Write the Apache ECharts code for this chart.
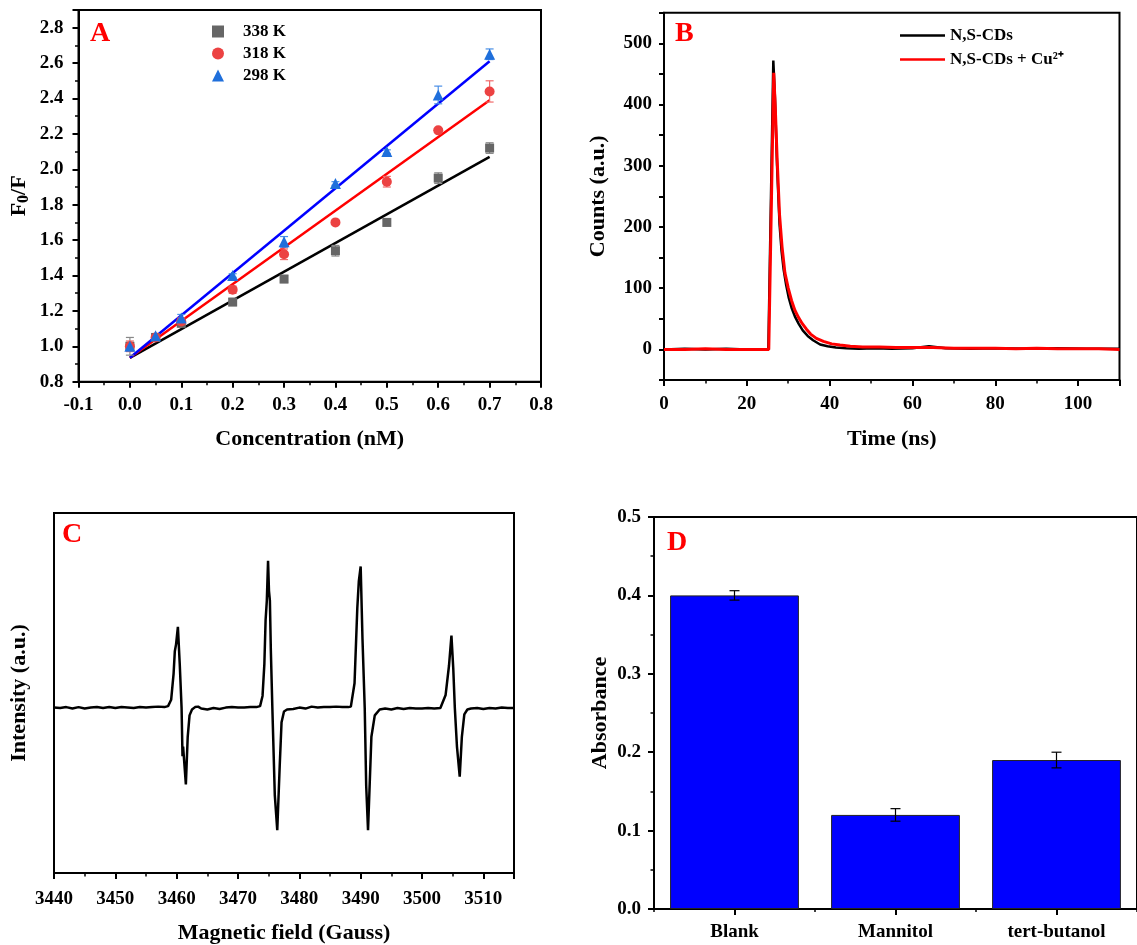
<!DOCTYPE html>
<html><head><meta charset="utf-8">
<script src="https://cdn.jsdelivr.net/npm/echarts@6/dist/echarts.min.js"></script>
<style>html,body{margin:0;padding:0;background:#fff}#main{width:1137px;height:945px}</style>
</head><body><div id="main"></div>
<script>
// ---------- Panel A ----------
const concX = [0, 0.05, 0.1, 0.2, 0.3, 0.4, 0.5, 0.6, 0.7];
const f338 = [1.00, 1.05, 1.13, 1.25, 1.38, 1.54, 1.70, 1.95, 2.12];
const e338 = [0.05, 0.02, 0.02, 0.02, 0.02, 0.03, 0.02, 0.03, 0.03];
const f318 = [1.00, 1.05, 1.14, 1.32, 1.52, 1.70, 1.93, 2.22, 2.44];
const e318 = [0.03, 0.01, 0.02, 0.02, 0.03, 0.01, 0.03, 0.01, 0.06];
const f298 = [1.00, 1.06, 1.16, 1.40, 1.59, 1.92, 2.10, 2.42, 2.65];
const e298 = [0.02, 0.01, 0.02, 0.01, 0.03, 0.01, 0.01, 0.05, 0.03];
const fitX = [0, 0.7];
const fit338 = [0.935, 2.07];
const fit318 = [0.935, 2.39];
const fit298 = [0.935, 2.61];
const legendA = ['338 K', '318 K', '298 K'];

// ---------- Panel B ----------
const bTimeBlack = [0, 5, 10, 15, 20, 25.2, 26.4, 26.8, 27.3, 27.9, 28.4, 28.9, 29.5, 30.1, 30.8, 31.6, 32.5, 33.5, 34.7, 36.0, 37.7, 39.5, 41.5, 44, 47, 51, 55, 60, 64, 68, 74, 80, 88, 95, 102, 110];
const bBlack =     [0, 1, 0, 1, 0, 0, 472, 410, 300, 205, 160, 130, 105, 85, 68, 54, 42, 31, 22, 15, 8, 5, 3, 2, 1, 2, 1, 2, 5, 2, 1, 2, 1, 2, 1, 1];
const bTimeRed = [0, 5, 10, 15, 20, 25.3, 26.5, 26.9, 27.3, 27.9, 28.5, 29.2, 30.0, 30.8, 31.6, 32.5, 33.4, 34.4, 35.4, 36.8, 38.5, 40.5, 42.5, 45, 48, 52, 56, 60, 65, 70, 75, 80, 85, 90, 95, 100, 105, 110];
const bRed =     [0, 0, 1, 0, 0, 0, 452, 390, 315, 220, 168, 125, 100, 80, 64, 52, 42, 33, 25, 18, 13, 9, 7, 5, 4, 4, 3, 3, 3, 2, 2, 2, 1, 2, 1, 1, 1, 0];
const legendB = ['N,S-CDs', 'N,S-CDs + Cu²⁺'];

// ---------- Panel C ----------
const cField = [3440, 3441, 3442, 3443, 3444, 3445, 3446, 3447, 3448, 3449, 3450, 3451, 3452, 3453, 3454, 3455, 3456, 3457, 3458, 3458.6,
  3459.1, 3459.5, 3459.7, 3459.9, 3460.2, 3460.5, 3460.8, 3460.95, 3461.05, 3461.5, 3461.8, 3462.1, 3462.5, 3463, 3463.5,
  3464, 3465, 3466, 3467, 3468, 3469, 3470, 3471, 3472, 3473, 3473.6,
  3474.0, 3474.3, 3474.5, 3474.7, 3474.9, 3475.05, 3475.2, 3475.35, 3475.6, 3476.0, 3476.4, 3476.8, 3477.1, 3477.5, 3478,
  3479, 3480, 3481, 3482, 3483, 3484, 3485, 3486, 3487, 3488, 3488.4,
  3489.0, 3489.45, 3489.7, 3490.0, 3490.3, 3490.66, 3490.9, 3491.2, 3491.75, 3492.3, 3493.1,
  3494, 3495, 3496, 3497, 3498, 3499, 3500, 3501, 3502, 3503,
  3503.85, 3504.4, 3504.8, 3505.1, 3505.35, 3505.7, 3506.15, 3506.5, 3506.9, 3507.4,
  3508, 3509, 3510, 3511, 3512, 3513, 3514, 3515];
const cIntensity = [0, -0.5, 0.5, -1, 0.5, -1, 0, 0.5, -0.5, 0.5, -0.5, 0.5, 0, -0.5, 0.5, 0, 0.5, 1, 0.5, 1.5,
  8, 35, 58, 65, 83, 45, 0, -50, -40, -79, -30, -8, -2, 0.5, 1,
  -1, -2, -0.5, -1.5, 0, 0.5, 0, 0, 0.5, 0.5, 1.5,
  12, 45, 90, 110, 151, 120, 110, 60, 0, -90, -126, -60, -15, -4, -2,
  -1.5, 0, -1, 1, 0, 0.5, 0.5, 1, 0.5, 0.5, 1,
  25, 102, 130, 145, 70, 0, -80, -126, -30, -8, -2,
  -1, -2, -0.5, -1.5, -0.5, -1, -1, -0.5, -1, -0.5,
  13, 43, 74, 40, 0, -40, -71, -30, -7, -2,
  -1, -0.5, -1.5, -0.5, -1, 0, -0.5, -0.5];

// ---------- Panel D ----------
const dCategories = ['Blank', 'Mannitol', 'tert-butanol'];
const dAbsorb = [0.40, 0.12, 0.19];
const dErr = [0.006, 0.008, 0.010];

const FONT = "'Liberation Serif', 'Times New Roman', serif";
const lbl = (o) => Object.assign({color: '#000', fontFamily: FONT, fontWeight: 'bold', fontSize: 19}, o || {});
const nameStyle = {color: '#000', fontFamily: FONT, fontWeight: 'bold', fontSize: 22};
const axLine = {show: true, onZero: false, lineStyle: {color: '#000', width: 2}};
const tick = {show: true, inside: false, length: 6, lineStyle: {color: '#000', width: 2}};
const minor = {show: true, splitNumber: 2, length: 3.5, lineStyle: {color: '#000', width: 1.5}};
const fmt1 = v => (Math.abs(v) < 1e-9 ? 0 : v).toFixed(1);

function errRender(color, cap, width) {
  return function (params, api) {
    const x = api.value(0), y = api.value(1), e = api.value(2);
    const hi = api.coord([x, y + e]), lo = api.coord([x, y - e]);
    const st = {stroke: color, lineWidth: width};
    return {type: 'group', children: [
      {type: 'line', shape: {x1: hi[0], y1: hi[1], x2: lo[0], y2: lo[1]}, style: st},
      {type: 'line', shape: {x1: hi[0] - cap, y1: hi[1], x2: hi[0] + cap, y2: hi[1]}, style: st},
      {type: 'line', shape: {x1: lo[0] - cap, y1: lo[1], x2: lo[0] + cap, y2: lo[1]}, style: st}
    ]};
  };
}
const pairs = (xs, ys) => xs.map((x, i) => [x, ys[i]]);
const triples = (xs, ys, es) => xs.map((x, i) => [x, ys[i], es[i]]);

const colGray = '#666666', colRed = '#ec4242', colBlue = '#1f6fdb';

const option = {
  animation: false,
  backgroundColor: '#fff',
  textStyle: {fontFamily: FONT},
  grid: [
    {left: 78.5, top: 10, width: 462.5, height: 371.7, show: true, borderColor: '#000', borderWidth: 2, backgroundColor: 'transparent'},
    {left: 664, top: 12.7, width: 455.5, height: 367.3, show: true, borderColor: '#000', borderWidth: 2, backgroundColor: 'transparent'},
    {left: 54, top: 513, width: 460, height: 366.5, show: true, borderColor: '#000', borderWidth: 2, backgroundColor: 'transparent'},
    {left: 654, top: 517, width: 487, height: 392, show: true, borderColor: '#000', borderWidth: 2, backgroundColor: 'transparent'}
  ],
  xAxis: [
    {type: 'value', gridIndex: 0, min: -0.1, max: 0.8, interval: 0.1, axisLine: axLine, axisTick: tick, minorTick: minor,
     splitLine: {show: false}, axisLabel: lbl({margin: 14, formatter: fmt1}),
     name: 'Concentration (nM)', nameLocation: 'middle', nameGap: 47, nameTextStyle: nameStyle},
    {type: 'value', gridIndex: 1, min: 0, max: 110, interval: 20, axisLine: axLine, axisTick: tick, minorTick: minor,
     splitLine: {show: false}, axisLabel: lbl({margin: 15, showMaxLabel: false}),
     name: 'Time (ns)', nameLocation: 'middle', nameGap: 48, nameTextStyle: nameStyle},
    {type: 'value', gridIndex: 2, min: 3440, max: 3515, interval: 10, axisLine: axLine, axisTick: tick, minorTick: minor,
     splitLine: {show: false}, axisLabel: lbl({margin: 17, showMaxLabel: false, formatter: v => String(v)}),
     name: 'Magnetic field (Gauss)', nameLocation: 'middle', nameGap: 49, nameTextStyle: nameStyle},
    {type: 'category', gridIndex: 3, data: dCategories, axisLine: axLine,
     axisTick: {show: true, alignWithLabel: true, length: 6, lineStyle: {color: '#000', width: 2}},
     axisLabel: lbl({margin: 14})},
    {type: 'category', gridIndex: 3, position: 'bottom', offset: 0, data: dCategories, axisLine: {show: false},
     axisTick: {show: true, alignWithLabel: false, length: 3, lineStyle: {color: '#000', width: 1.5}},
     axisLabel: {show: false}}
  ],
  yAxis: [
    {type: 'value', gridIndex: 0, min: 0.8, max: 2.9, interval: 0.2, axisLine: axLine, axisTick: tick, minorTick: minor,
     splitLine: {show: false}, axisLabel: lbl({margin: 15, formatter: fmt1, showMaxLabel: false}),
     name: '{a|F}{s|0}{a|/F}', nameLocation: 'middle', nameGap: 47,
     nameTextStyle: {rich: {a: nameStyle, s: {color: '#000', fontFamily: FONT, fontWeight: 'bold', fontSize: 16, padding: [8, 0, 0, 0]}}}},
    {type: 'value', gridIndex: 1, min: -50, max: 550, interval: 50, axisLine: axLine,
     axisTick: {show: true, inside: false, length: 5, lineStyle: {color: '#000', width: 2}},
     splitLine: {show: false}, axisLabel: lbl({margin: 12, formatter: v => (v % 100 === 0 ? String(v) : '')}),
     name: 'Counts (a.u.)', nameLocation: 'middle', nameGap: 55, nameTextStyle: nameStyle},
    {type: 'value', gridIndex: 2, min: -170, max: 200, axisLine: axLine, axisTick: {show: false},
     splitLine: {show: false}, axisLabel: {show: false},
     name: 'Intensity (a.u.)', nameLocation: 'middle', nameGap: 24, nameTextStyle: nameStyle},
    {type: 'value', gridIndex: 3, min: 0, max: 0.5, interval: 0.1, axisLine: axLine, axisTick: tick, minorTick: minor,
     splitLine: {show: false}, axisLabel: lbl({margin: 13, formatter: fmt1}),
     name: 'Absorbance', nameLocation: 'middle', nameGap: 43, nameTextStyle: nameStyle}
  ],
  legend: [
    {data: legendA, orient: 'vertical', left: 212, top: 23, padding: 0, itemWidth: 12, itemHeight: 12, itemGap: 5,
     textStyle: {color: '#000', fontFamily: FONT, fontWeight: 'bold', fontSize: 17, padding: [0, 0, 0, 14]}},
    {data: legendB.map(n => ({name: n, icon: 'rect'})), orient: 'vertical', left: 900, top: 27, padding: 0,
     itemWidth: 45, itemHeight: 2.5, itemGap: 7,
     textStyle: {color: '#000', fontFamily: FONT, fontWeight: 'bold', fontSize: 17}}
  ],
  graphic: [
    {type: 'text', left: 90, top: 20, style: {text: 'A', fill: '#ff0000', fontFamily: FONT, fontWeight: 'bold', fontSize: 28}},
    {type: 'text', left: 675, top: 20, style: {text: 'B', fill: '#ff0000', fontFamily: FONT, fontWeight: 'bold', fontSize: 28}},
    {type: 'text', left: 62, top: 521, style: {text: 'C', fill: '#ff0000', fontFamily: FONT, fontWeight: 'bold', fontSize: 28}},
    {type: 'text', left: 667, top: 529, style: {text: 'D', fill: '#ff0000', fontFamily: FONT, fontWeight: 'bold', fontSize: 28}}
  ],
  series: [
    {type: 'line', name: 'fit338', xAxisIndex: 0, yAxisIndex: 0, data: pairs(fitX, fit338), symbol: 'none', lineStyle: {color: '#000', width: 2.5}, z: 2},
    {type: 'line', name: 'fit318', xAxisIndex: 0, yAxisIndex: 0, data: pairs(fitX, fit318), symbol: 'none', lineStyle: {color: '#ff0000', width: 2.5}, z: 2},
    {type: 'line', name: 'fit298', xAxisIndex: 0, yAxisIndex: 0, data: pairs(fitX, fit298), symbol: 'none', lineStyle: {color: '#0000ff', width: 2.5}, z: 2},
    {type: 'custom', name: 'err338', xAxisIndex: 0, yAxisIndex: 0, data: triples(concX, f338, e338), encode: {x: 0, y: 1}, renderItem: errRender('#888', 4, 1.2), z: 3},
    {type: 'custom', name: 'err318', xAxisIndex: 0, yAxisIndex: 0, data: triples(concX, f318, e318), encode: {x: 0, y: 1}, renderItem: errRender('#f06a6a', 4, 1.2), z: 3},
    {type: 'custom', name: 'err298', xAxisIndex: 0, yAxisIndex: 0, data: triples(concX, f298, e298), encode: {x: 0, y: 1}, renderItem: errRender('#4a8fe6', 4, 1.2), z: 3},
    {type: 'scatter', name: '338 K', xAxisIndex: 0, yAxisIndex: 0, data: pairs(concX, f338), symbol: 'rect', symbolSize: 9, itemStyle: {color: colGray, opacity: 1}, z: 4},
    {type: 'scatter', name: '318 K', xAxisIndex: 0, yAxisIndex: 0, data: pairs(concX, f318), symbol: 'circle', symbolSize: 10, itemStyle: {color: colRed, opacity: 1}, z: 4},
    {type: 'scatter', name: '298 K', xAxisIndex: 0, yAxisIndex: 0, data: pairs(concX, f298), symbol: 'triangle', symbolSize: 11, itemStyle: {color: colBlue, opacity: 1}, z: 4},
    {type: 'line', name: 'N,S-CDs', xAxisIndex: 1, yAxisIndex: 1, data: pairs(bTimeBlack, bBlack), symbol: 'none', lineStyle: {color: '#000', width: 2.5}, itemStyle: {color: '#000'}},
    {type: 'line', name: 'N,S-CDs + Cu²⁺', xAxisIndex: 1, yAxisIndex: 1, data: pairs(bTimeRed, bRed), symbol: 'none', lineStyle: {color: '#ff0000', width: 3}, itemStyle: {color: '#ff0000'}},
    {type: 'line', name: 'EPR', xAxisIndex: 2, yAxisIndex: 2, data: pairs(cField, cIntensity), symbol: 'none', lineStyle: {color: '#000', width: 2.5}},
    {type: 'bar', name: 'Absorbance', xAxisIndex: 3, yAxisIndex: 3, data: dAbsorb, barCategoryGap: '20%',
     itemStyle: {color: '#0000ff', borderColor: '#222', borderWidth: 1}},
    {type: 'custom', name: 'errD', xAxisIndex: 3, yAxisIndex: 3, data: dCategories.map((c, i) => [i, dAbsorb[i], dErr[i]]), encode: {x: 0, y: 1},
     renderItem: errRender('#000', 5, 1.2), z: 5}
  ]
};
const chart = echarts.init(document.getElementById('main'));
chart.setOption(option);
</script>
</body></html>
